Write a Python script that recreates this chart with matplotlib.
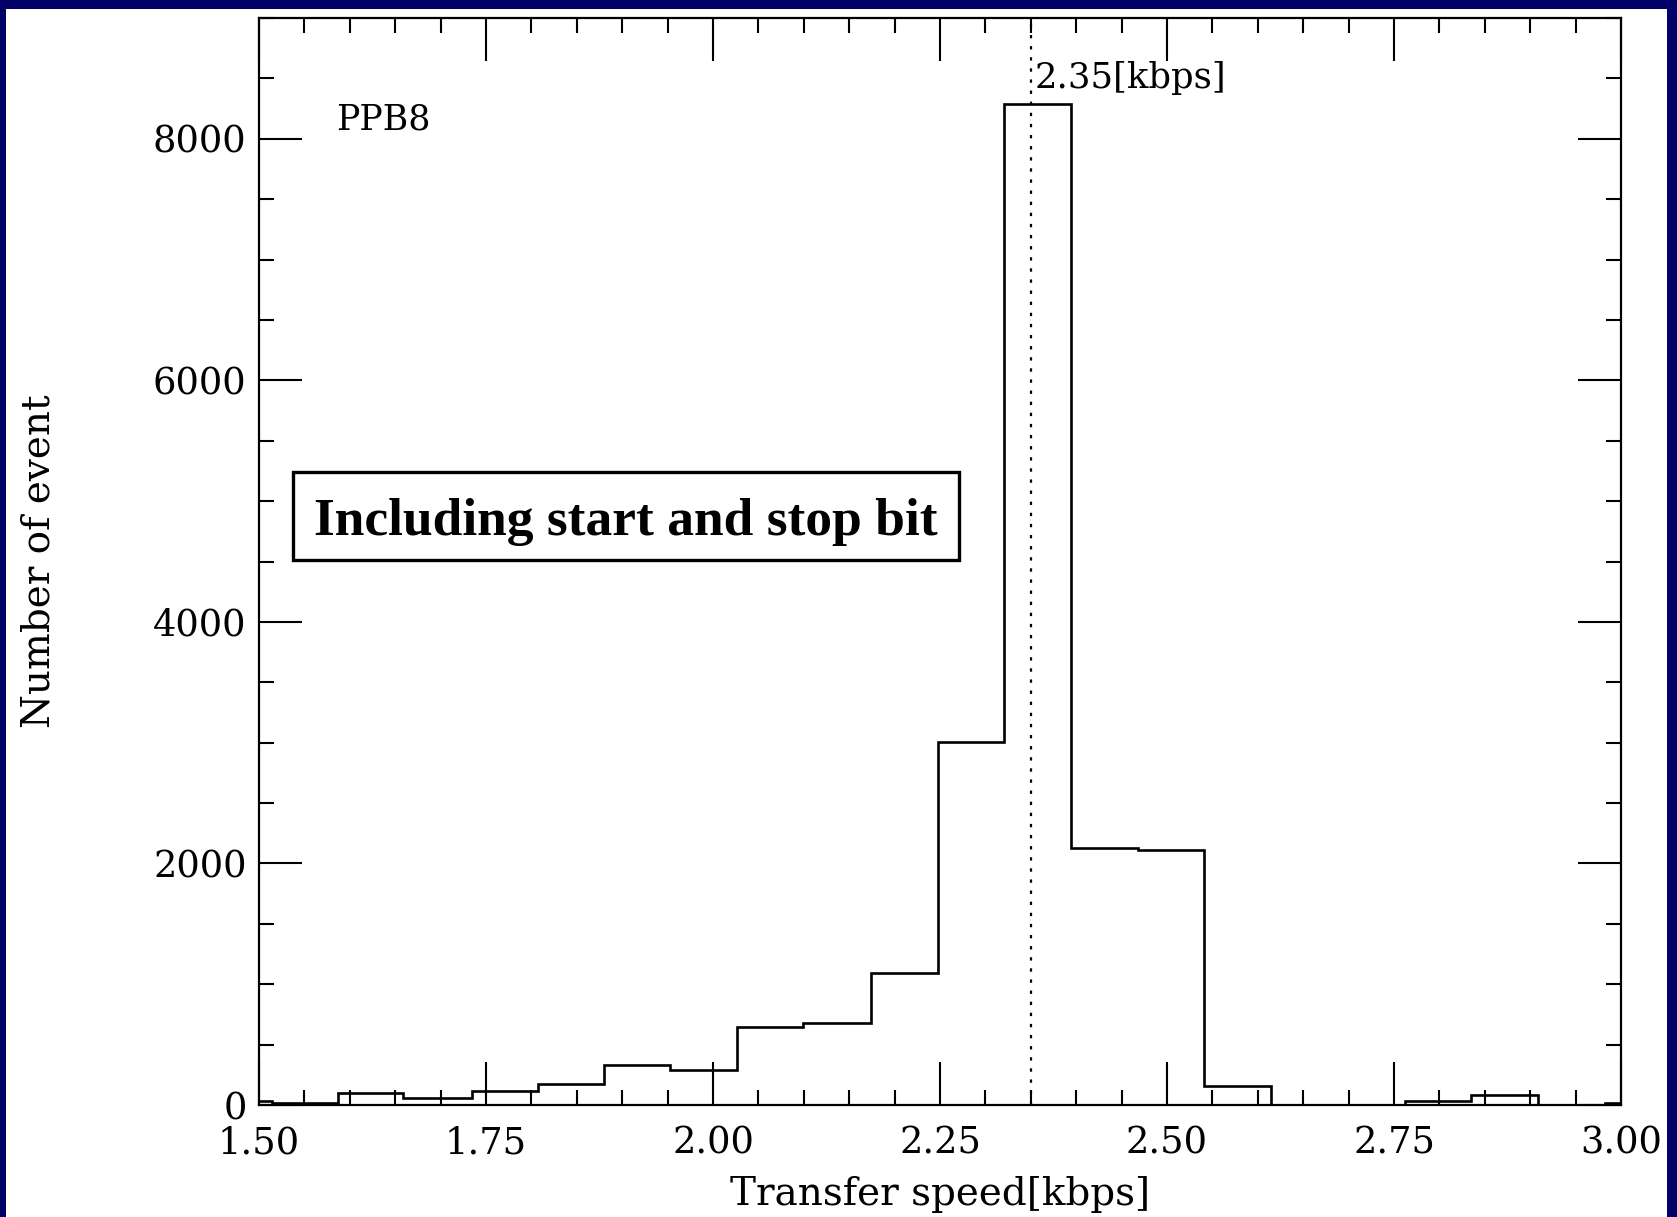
import matplotlib
matplotlib.use('Agg')
import matplotlib.pyplot as plt
from matplotlib.patches import Rectangle
from matplotlib.ticker import MultipleLocator, FormatStrFormatter

# bin edges [kbps] and event counts
edges = [1.4396, 1.514, 1.5865, 1.659, 1.7345, 1.807, 1.880, 1.953, 2.026,
         2.0986, 2.174, 2.2474, 2.3209, 2.3943, 2.4678, 2.5412, 2.6147,
         2.688, 2.7616, 2.835, 2.9085, 2.982, 3.0555]
counts = [30, 15, 97, 55, 118, 177, 334, 292, 642, 683, 1094, 3007, 8285,
          2125, 2108, 157, 0, 0, 35, 80, 0, 20]
peak_speed = 2.35
peak_label = '2.35[kbps]'
tag = 'PPB8'
note = 'Including start and stop bit'

W, H = 1677, 1217
fig = plt.figure(figsize=(W / 100, H / 100), dpi=100)
fig.patch.set_facecolor('#000066')
# white page inside the navy frame
fig.patches.append(Rectangle((6 / W, 0), (1667 - 6) / W, 1 - 9 / H,
                             transform=fig.transFigure, facecolor='white',
                             edgecolor='none', zorder=-10))

serif = 'DejaVu Serif'
ax = fig.add_axes([259 / W, (H - 1105) / H, (1621 - 259) / W, (1105 - 18) / H])
ax.set_facecolor('none')

ax.stairs(counts, edges, color='black', linewidth=1.9)
ax.axvline(peak_speed, color='black', linestyle=(0, (1.5, 3.5)), linewidth=1.6)

ax.set_xlim(1.5, 3.0)
ax.set_ylim(0, 9000)

ax.xaxis.set_major_locator(MultipleLocator(0.25))
ax.xaxis.set_minor_locator(MultipleLocator(0.05))
ax.yaxis.set_major_locator(MultipleLocator(2000))
ax.yaxis.set_minor_locator(MultipleLocator(500))
ax.xaxis.set_major_formatter(FormatStrFormatter('%.2f'))

ax.tick_params(which='both', direction='in', top=True, right=True,
               width=1.5, colors='black')
ax.tick_params(which='major', length=31)
ax.tick_params(which='minor', length=11)
ax.tick_params(axis='x', which='major', pad=15, labelsize=26.5)
ax.tick_params(axis='y', which='major', pad=9, labelsize=26.5)
for lab in ax.get_xticklabels() + ax.get_yticklabels():
    lab.set_family(serif)
for sp in ax.spines.values():
    sp.set_linewidth(1.6)

ax.set_xlabel('Transfer speed[kbps]', family=serif, fontsize=28, labelpad=10)
ax.set_ylabel('Number of event', family=serif, fontsize=28, labelpad=69)

fig.text(336 / W, 1 - 130 / H, tag, family=serif, fontsize=25)
ax.text(peak_speed + 0.004, 8420, peak_label, family=serif, fontsize=25.5,
        ha='left', va='baseline')

# boxed note
fig.text((293 + 959) / 2 / W, 1 - 522 / H, note,
         family='Liberation Serif', fontweight='bold', fontsize=38.5,
         ha='center', va='center', zorder=6)
fig.patches.append(Rectangle((293 / W, (H - 560) / H), (959 - 293) / W, (560 - 472) / H,
                             transform=fig.transFigure, facecolor='white',
                             edgecolor='black', linewidth=2.4, zorder=5))

fig.savefig('out.png', dpi=100, facecolor=fig.get_facecolor())
